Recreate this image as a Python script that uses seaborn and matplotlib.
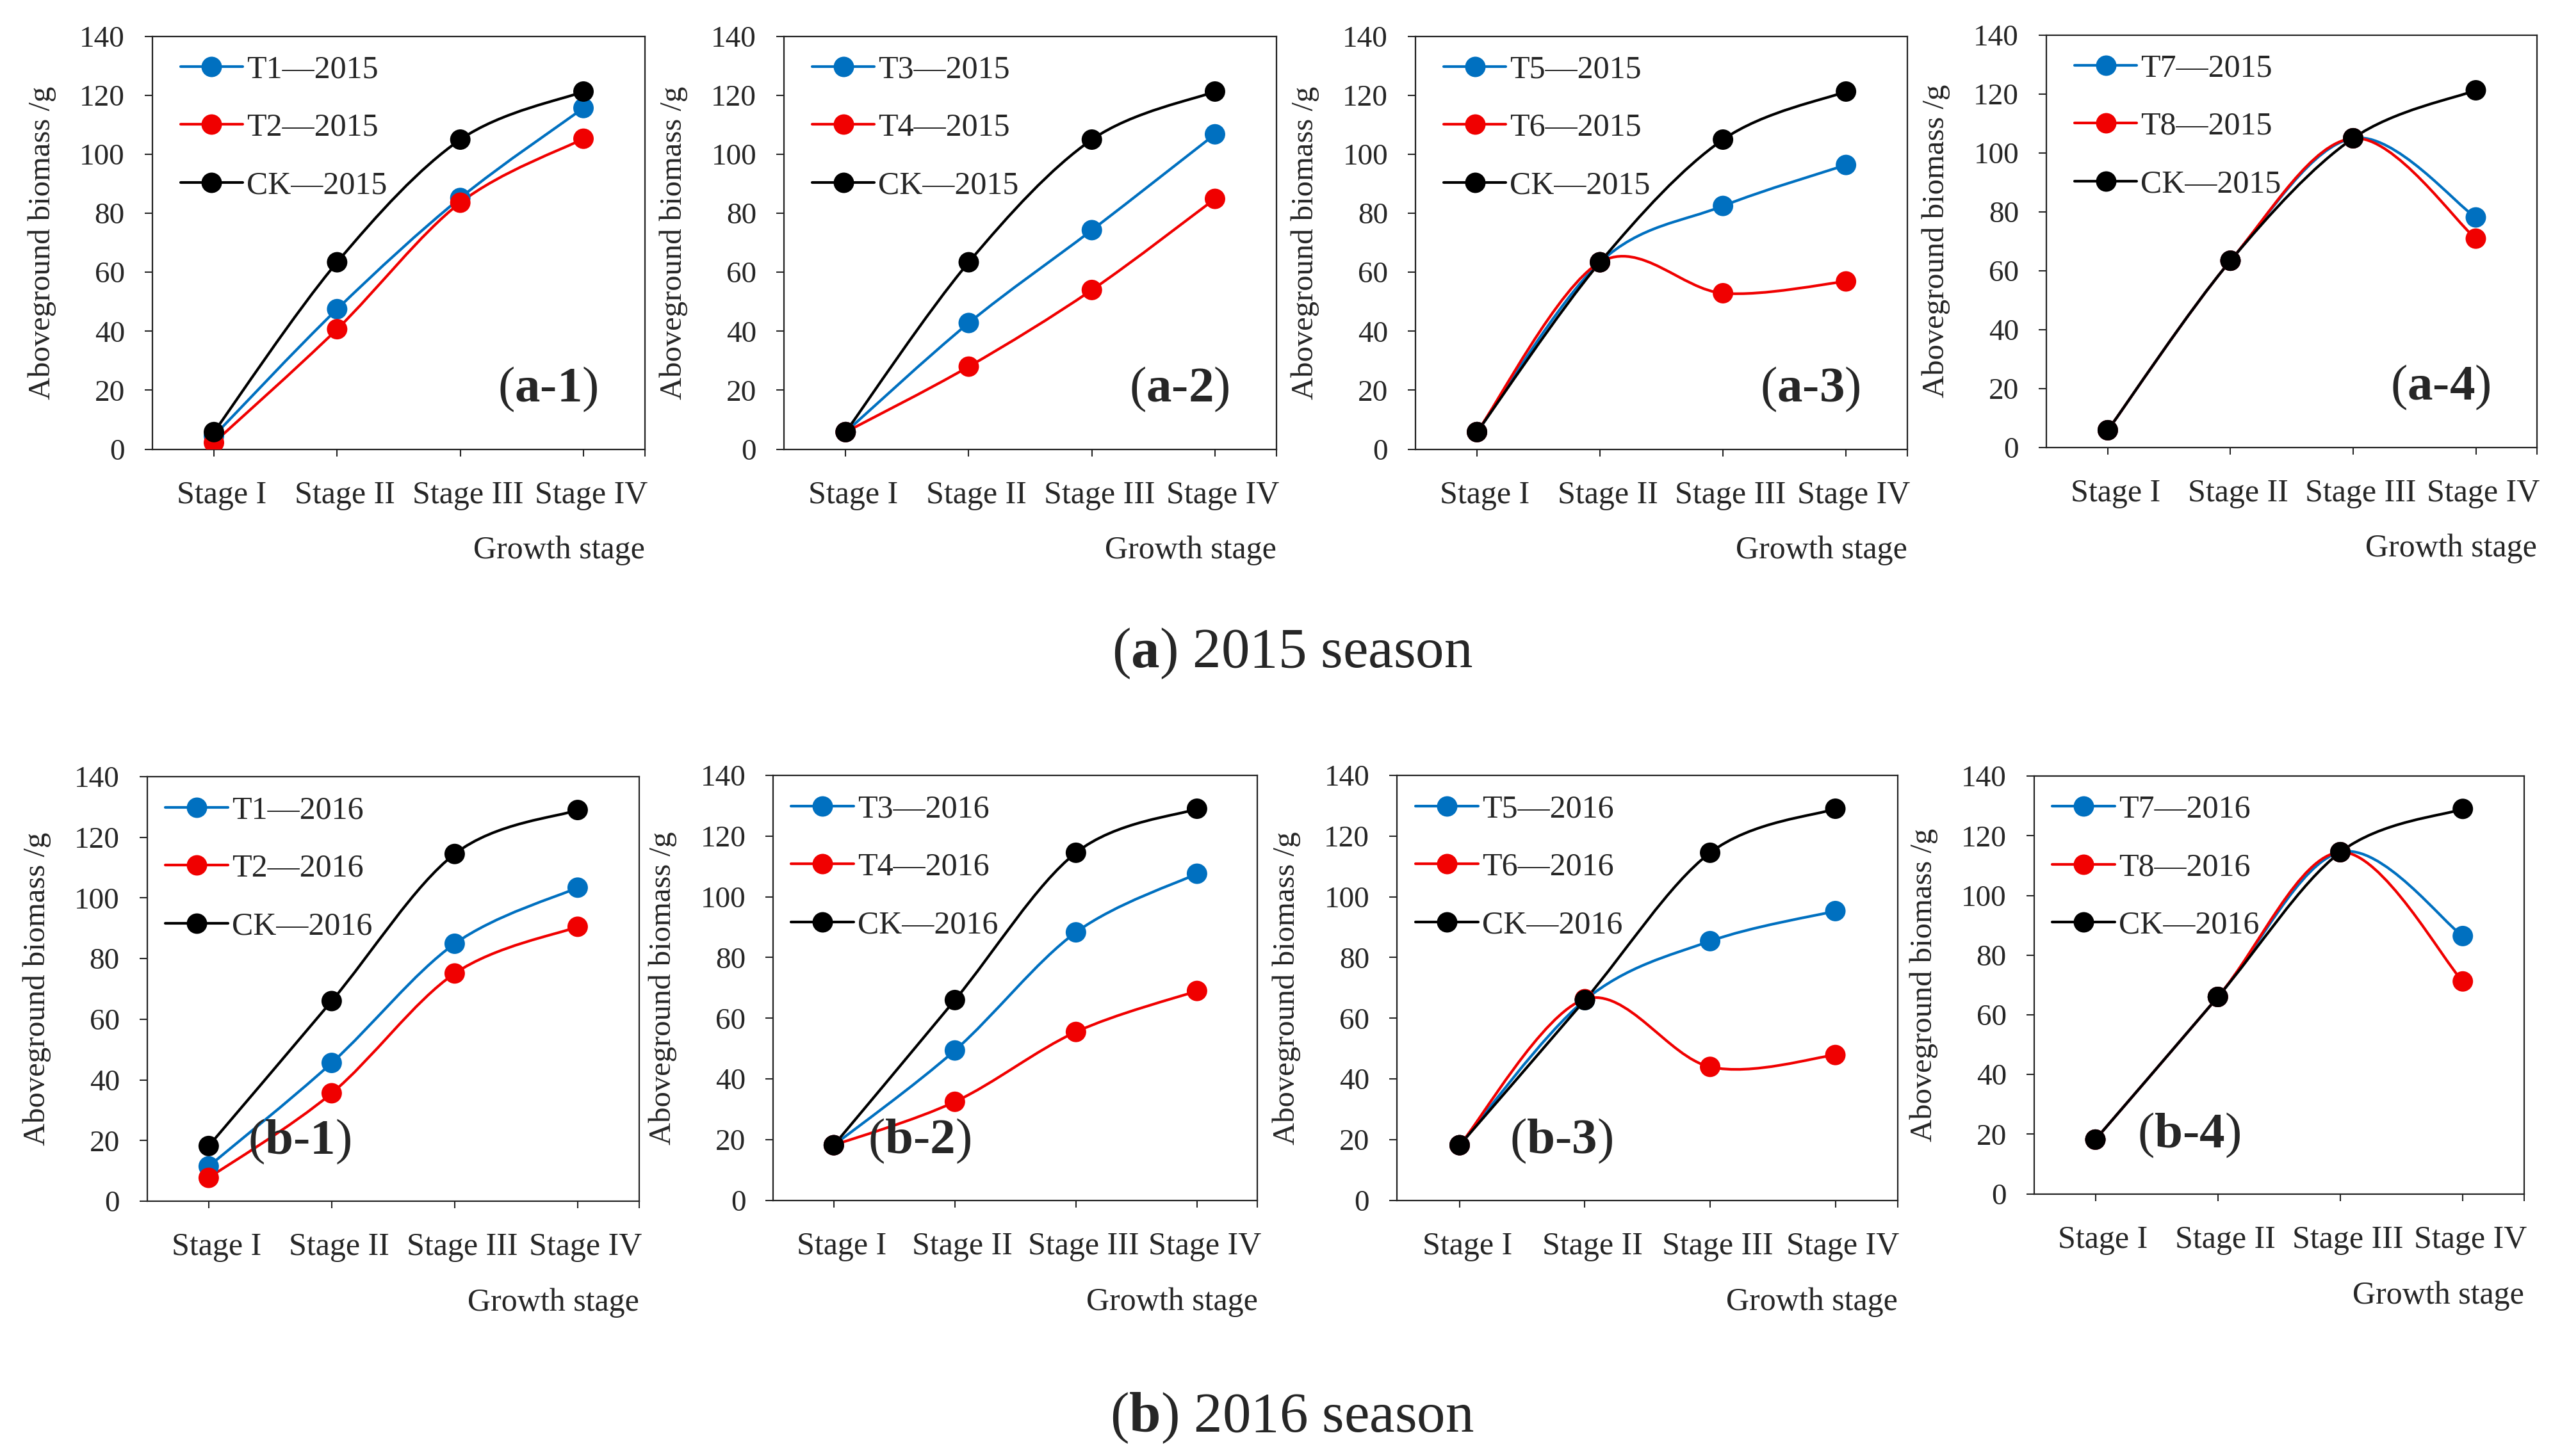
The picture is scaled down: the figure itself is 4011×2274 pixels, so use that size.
import numpy as np
import matplotlib
matplotlib.use("Agg")
import matplotlib.pyplot as plt
import matplotlib.transforms as mtransforms
import seaborn as sns
from matplotlib.path import Path
from matplotlib.patches import PathPatch
from matplotlib.lines import Line2D

# ====================================================
# DATA (aboveground biomass, g)
# ====================================================

stages = ["Stage I", "Stage II", "Stage III", "Stage IV"]

ck_2015 = [5.8, 63.4, 105.0, 121.3]
t1_2015 = [4.5, 47.5, 85.2, 115.7]
t2_2015 = [2.2, 40.7, 83.6, 105.3]
t3_2015 = [5.8, 42.8, 74.3, 106.8]
t4_2015 = [5.8, 28.0, 54.0, 84.9]
t5_2015 = [5.8, 63.4, 82.5, 96.4]
t6_2015 = [5.8, 63.4, 52.9, 56.9]
t7_2015 = [5.8, 63.4, 105.0, 78.1]
t8_2015 = [5.8, 63.4, 105.0, 70.9]

ck_2016 = [18.2, 66.0, 114.5, 129.0]
t1_2016 = [11.5, 45.6, 84.9, 103.4]
t2_2016 = [7.7, 35.6, 75.1, 90.5]
t3_2016 = [18.2, 49.4, 88.3, 107.6]
t4_2016 = [18.2, 32.5, 55.5, 69.0]
t5_2016 = [18.2, 66.0, 85.4, 95.3]
t6_2016 = [18.2, 66.3, 44.0, 47.9]
t7_2016 = [18.2, 66.0, 114.5, 86.4]
t8_2016 = [18.2, 66.0, 114.5, 71.2]

yticks = [0, 20, 40, 60, 80, 100, 120, 140]

BLUE = "#0070C0"
RED = "#F00000"
BLACK = "#000000"

# ====================================================
# STYLE
# ====================================================

sns.set_style("white")
plt.rcParams["font.family"] = ["Liberation Serif", "DejaVu Serif"]
plt.rcParams["mathtext.fontset"] = "custom"
plt.rcParams["mathtext.rm"] = "Liberation Serif"
plt.rcParams["mathtext.bf"] = "Liberation Serif:bold"

LW = 3.0
MS = 23


def smooth_path(xs, ys):
    # Excel-style smoothed line: Catmull-Rom segments as cubic Bezier
    pts = np.column_stack([xs, ys]).astype(float)
    n = len(pts)
    verts = [pts[0]]
    codes = [Path.MOVETO]
    for i in range(n - 1):
        p0 = pts[i - 1] if i > 0 else pts[i]
        p1 = pts[i]
        p2 = pts[i + 1]
        p3 = pts[i + 2] if i + 2 < n else pts[i + 1]
        c1 = p1 + (p2 - p0) / 6
        c2 = p2 - (p3 - p1) / 6
        verts += [c1, c2, p2]
        codes += [Path.CURVE4] * 3
    return Path(verts, codes)


def draw_panel(ax, series, tag, tag_pos, tag_ha, leg_x):
    xpos = np.arange(len(stages))
    for i, (label, vals, color) in enumerate(series):
        patch = PathPatch(smooth_path(xpos, vals), facecolor="none",
                          edgecolor=color, lw=LW, zorder=2 + i * 0.1)
        ax.add_patch(patch)
        sns.scatterplot(x=xpos, y=vals, color=color, s=MS ** 2,
                        edgecolor="none", zorder=3 + i * 0.1, ax=ax)

    ax.set_xlim(-0.5, 3.5)
    ax.set_ylim(0, 140)
    ax.set_yticks(yticks)
    ax.set_xticks(xpos)
    ax.set_xticklabels(stages)
    ax.set_xticks([3.5], minor=True)

    ax.tick_params(axis="y", direction="out", length=9, width=1.5,
                   pad=22, labelsize=34, left=True)
    ax.tick_params(axis="x", which="both", direction="out", length=8,
                   width=1.5, pad=27, labelsize=36, bottom=True)
    # Excel puts the category labels a little right of the ticks
    shift = mtransforms.ScaledTranslation(0.12, 0, fig.dpi_scale_trans)
    for lab in ax.get_xticklabels():
        lab.set_transform(lab.get_transform() + shift)
    for sp in ax.spines.values():
        sp.set_visible(True)
        sp.set_color("#222222")
        sp.set_linewidth(1.6)

    ax.set_ylabel("Aboveground biomass /g", fontsize=35, labelpad=26)
    ax.set_xlabel("Growth stage", fontsize=36, loc="right", labelpad=29)

    handles = [
        Line2D([], [], color=c, lw=LW, marker="o", markersize=MS,
               markeredgecolor="none")
        for _, _, c in series
    ]
    ax.legend(handles, [s[0] for s in series], loc="upper left",
              bbox_to_anchor=(leg_x, 0.955), frameon=False, fontsize=36,
              handlelength=1.95, handletextpad=0.12, labelspacing=0.88,
              borderpad=0, borderaxespad=0)

    ax.text(tag_pos[0], tag_pos[1], tag, transform=ax.transAxes,
            ha=tag_ha, va="center", fontsize=57)


fig = plt.figure(figsize=(40.11, 22.74), dpi=100)

# ====================================================
# ROW A : 2015 SEASON
# ====================================================

row_a = [
    [("T1—2015", t1_2015, BLUE), ("T2—2015", t2_2015, RED), ("CK—2015", ck_2015, BLACK)],
    [("T3—2015", t3_2015, BLUE), ("T4—2015", t4_2015, RED), ("CK—2015", ck_2015, BLACK)],
    [("T5—2015", t5_2015, BLUE), ("T6—2015", t6_2015, RED), ("CK—2015", ck_2015, BLACK)],
    [("T7—2015", t7_2015, BLUE), ("T8—2015", t8_2015, RED), ("CK—2015", ck_2015, BLACK)],
]
a_rects = [
    [0.0593, 0.6915, 0.1918, 0.2835],
    [0.3052, 0.6915, 0.1917, 0.2835],
    [0.5510, 0.6915, 0.1915, 0.2835],
    [0.7966, 0.6928, 0.1910, 0.2830],
]
for k in range(4):
    ax = fig.add_axes(a_rects[k])
    draw_panel(ax, row_a[k], r"($\bf{a}$-$\bf{%d}$)" % (k + 1),
               (0.905, 0.145), "right", 0.057)

# ====================================================
# ROW B : 2016 SEASON
# ====================================================

row_b = [
    [("T1—2016", t1_2016, BLUE), ("T2—2016", t2_2016, RED), ("CK—2016", ck_2016, BLACK)],
    [("T3—2016", t3_2016, BLUE), ("T4—2016", t4_2016, RED), ("CK—2016", ck_2016, BLACK)],
    [("T5—2016", t5_2016, BLUE), ("T6—2016", t6_2016, RED), ("CK—2016", ck_2016, BLACK)],
    [("T7—2016", t7_2016, BLUE), ("T8—2016", t8_2016, RED), ("CK—2016", ck_2016, BLACK)],
]
b_rects = [
    [0.0573, 0.1750, 0.1915, 0.2916],
    [0.3010, 0.1755, 0.1885, 0.2920],
    [0.5438, 0.1755, 0.1950, 0.2920],
    [0.7918, 0.1800, 0.1907, 0.2870],
]
b_tag_x = [0.205, 0.195, 0.225, 0.21]
for k in range(4):
    ax = fig.add_axes(b_rects[k])
    draw_panel(ax, row_b[k], r"($\bf{b}$-$\bf{%d}$)" % (k + 1),
               (b_tag_x[k], 0.14), "left", 0.037)

# ====================================================
# CAPTIONS
# ====================================================

fig.text(0.503, 0.551, r"($\bf{a}$) 2015 season", ha="center", va="center", fontsize=64)
fig.text(0.503, 0.026, r"($\bf{b}$) 2016 season", ha="center", va="center", fontsize=64)

fig.savefig("out.png", dpi=100, facecolor="white")
